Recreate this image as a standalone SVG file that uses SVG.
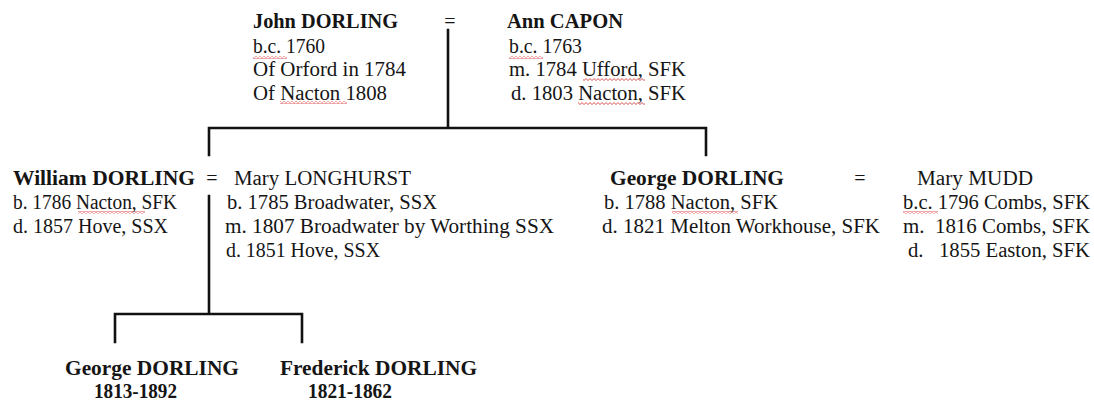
<svg xmlns="http://www.w3.org/2000/svg" width="1094" height="400" viewBox="0 0 1094 400">
<style>
text{font-family:"Liberation Serif","Times New Roman",serif;font-size:20px;fill:#151515;white-space:pre}
.b{font-weight:bold}
.eq{text-anchor:middle}
.ln{stroke:#111;stroke-width:2.6;fill:none;stroke-linecap:square}
</style>
<defs>
<pattern id="sq" width="4" height="3" patternUnits="userSpaceOnUse">
<path d="M0 2.5 L2 0.6 L4 2.5" stroke="#d23030" stroke-width="0.8" fill="none"/>
</pattern>
</defs>
<rect width="1094" height="400" fill="#fff"/>
<g id="connectors">
<path class="ln" d="M448 30 V128 M209 128 H706 M209 128 V155 M706 128 V155"/>
<path class="ln" d="M209 196 V314 M115 314 H302 M115 314 V342 M302 314 V342"/>
</g>
<g id="spellcheck" fill="url(#sq)">
<rect x="253" y="56" width="34" height="3"/>
<rect x="280" y="101" width="67" height="3"/>
<rect x="509" y="56" width="34" height="3"/>
<rect x="583" y="78" width="62" height="3"/>
<rect x="578" y="102" width="67" height="3"/>
<rect x="78" y="211" width="67" height="3"/>
<rect x="672" y="211" width="66" height="3"/>
<rect x="903" y="211" width="35" height="3"/>
</g>
<g id="john">
<text class="b" x="253" y="28" textLength="145" lengthAdjust="spacingAndGlyphs">John DORLING</text>
<text x="253" y="53" textLength="72" lengthAdjust="spacingAndGlyphs">b.c. 1760</text>
<text x="253" y="76" textLength="153" lengthAdjust="spacingAndGlyphs">Of Orford in 1784</text>
<text x="253" y="100" textLength="134" lengthAdjust="spacingAndGlyphs">Of Nacton 1808</text>
</g>
<g id="marriage1"><text class="eq" x="450" y="28">=</text></g>
<g id="ann">
<text class="b" x="507" y="28" textLength="116" lengthAdjust="spacingAndGlyphs">Ann CAPON</text>
<text x="509" y="53" textLength="73" lengthAdjust="spacingAndGlyphs">b.c. 1763</text>
<text x="509" y="76" textLength="177" lengthAdjust="spacingAndGlyphs">m. 1784 Ufford, SFK</text>
<text x="511" y="100" textLength="175" lengthAdjust="spacingAndGlyphs">d. 1803 Nacton, SFK</text>
</g>
<g id="william">
<text class="b" x="13" y="185" textLength="182" lengthAdjust="spacingAndGlyphs">William DORLING</text>
<text x="13" y="209" textLength="164" lengthAdjust="spacingAndGlyphs">b. 1786 Nacton, SFK</text>
<text x="13" y="233" textLength="155" lengthAdjust="spacingAndGlyphs">d. 1857 Hove, SSX</text>
</g>
<g id="marriage2"><text class="eq" x="212" y="185">=</text></g>
<g id="mary-longhurst">
<text x="234" y="185" textLength="177" lengthAdjust="spacingAndGlyphs">Mary LONGHURST</text>
<text x="227" y="209" textLength="210" lengthAdjust="spacingAndGlyphs">b. 1785 Broadwater, SSX</text>
<text x="225" y="233" textLength="329" lengthAdjust="spacingAndGlyphs">m. 1807 Broadwater by Worthing SSX</text>
<text x="226" y="257" textLength="154" lengthAdjust="spacingAndGlyphs">d. 1851 Hove, SSX</text>
</g>
<g id="george">
<text class="b" x="610" y="185" textLength="174" lengthAdjust="spacingAndGlyphs">George DORLING</text>
<text x="604" y="209" textLength="174" lengthAdjust="spacingAndGlyphs">b. 1788 Nacton, SFK</text>
<text x="602" y="233" textLength="278" lengthAdjust="spacingAndGlyphs">d. 1821 Melton Workhouse, SFK</text>
</g>
<g id="marriage3"><text class="eq" x="860" y="185">=</text></g>
<g id="mary-mudd">
<text x="917" y="185" textLength="116" lengthAdjust="spacingAndGlyphs">Mary MUDD</text>
<text x="903" y="209" textLength="187" lengthAdjust="spacingAndGlyphs">b.c. 1796 Combs, SFK</text>
<text x="903" y="233" textLength="187" lengthAdjust="spacingAndGlyphs">m.  1816 Combs, SFK</text>
<text x="908" y="257" textLength="182" lengthAdjust="spacingAndGlyphs">d.   1855 Easton, SFK</text>
</g>
<g id="george-jr">
<text class="b" x="65" y="375" textLength="174" lengthAdjust="spacingAndGlyphs">George DORLING</text>
<text class="b" x="94" y="398" textLength="83" lengthAdjust="spacingAndGlyphs">1813-1892</text>
</g>
<g id="frederick">
<text class="b" x="280" y="375" textLength="197" lengthAdjust="spacingAndGlyphs">Frederick DORLING</text>
<text class="b" x="308" y="398" textLength="84" lengthAdjust="spacingAndGlyphs">1821-1862</text>
</g>
</svg>
